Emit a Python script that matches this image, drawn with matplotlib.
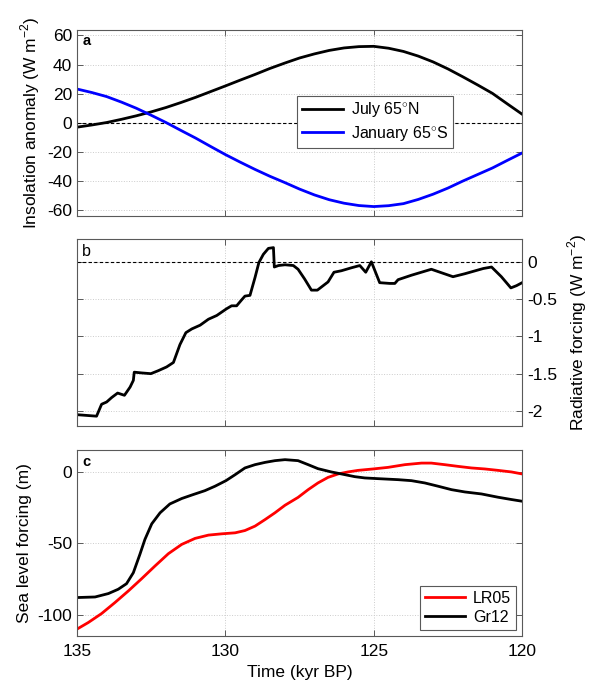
#!/usr/bin/env python3
"""Three-panel forcing figure: insolation, radiative forcing, sea level (135-120 kyr BP)."""
import matplotlib
matplotlib.use("Agg")
import matplotlib.pyplot as plt

plt.rcParams["font.family"] = ["Liberation Sans", "DejaVu Sans"]
plt.rcParams["axes.unicode_minus"] = False
plt.rcParams["mathtext.fontset"] = "custom"
plt.rcParams["mathtext.rm"] = "Liberation Sans"

# --- data ---------------------------------------------------------------------
# panel a: insolation anomaly (W m-2)
ins_time = [135, 134.5, 134, 133.5, 133, 132.5, 132, 131.5, 131, 130.5, 130, 129.5,
            129, 128.5, 128, 127.5, 127, 126.5, 126, 125.5, 125, 124.5, 124, 123.5,
            123, 122.5, 122, 121.5, 121, 120.5, 120]
july_65n = [-3.0, -1.5, 0.2, 2.4, 4.8, 7.5, 10.5, 13.9, 17.5, 21.4, 25.3, 29.3,
            33.2, 37.3, 41.0, 44.5, 47.3, 49.7, 51.4, 52.3, 52.5, 51.2, 49.0, 45.8,
            41.8, 37.0, 31.6, 26.0, 20.2, 13.0, 5.9]
jan_65s = [23.2, 20.8, 18.0, 14.2, 10.0, 5.2, 0.2, -5.2, -10.5, -16.2, -21.8, -27.0,
           -32.0, -36.7, -41.0, -45.5, -49.5, -52.8, -55.2, -56.8, -57.5, -56.9, -55.5, -52.6,
           -49.0, -44.8, -40.0, -35.5, -31.0, -25.8, -20.7]

# panel b: radiative forcing (W m-2)
rf_time = [135, 134.34, 134.17, 134.0, 133.83, 133.63, 133.40, 133.21, 133.10, 133.07,
           132.82, 132.51, 132.26, 131.98, 131.75, 131.53, 131.33, 131.13, 130.85, 130.57,
           130.29, 129.96, 129.79, 129.62, 129.45, 129.34, 129.17, 129.0, 128.87, 128.72,
           128.55, 128.38, 128.35, 128.21, 127.99, 127.71, 127.55, 127.33, 127.1, 126.9,
           126.54, 126.34, 126.09, 125.75, 125.47, 125.27, 125.08, 124.8, 124.46, 124.29,
           124.18, 123.73, 123.06, 122.33, 121.93, 121.31, 121.03, 120.7, 120.38, 120.19,
           120.0]
rf_value = [-2.05, -2.07, -1.91, -1.88, -1.82, -1.76, -1.79, -1.68, -1.59, -1.48,
            -1.49, -1.50, -1.46, -1.41, -1.35, -1.11, -0.95, -0.90, -0.85, -0.77,
            -0.72, -0.63, -0.59, -0.59, -0.51, -0.46, -0.45, -0.21, -0.01, 0.10,
            0.18, 0.19, -0.07, -0.05, -0.04, -0.05, -0.10, -0.23, -0.38, -0.38,
            -0.27, -0.14, -0.12, -0.08, -0.05, -0.14, 0.0, -0.28, -0.29, -0.29,
            -0.24, -0.18, -0.10, -0.20, -0.16, -0.09, -0.07, -0.20, -0.35, -0.32,
            -0.28]

# panel c: sea level forcing (m)
gr12_time = [135, 134.39, 133.94, 133.61, 133.33, 133.1, 132.88, 132.71, 132.48, 132.2,
             131.87, 131.47, 131.08, 130.69, 130.35, 129.98, 129.67, 129.34, 129.0, 128.66,
             128.33, 127.99, 127.55, 127.21, 126.88, 126.43, 126.09, 125.64, 125.3, 124.85,
             124.18, 123.73, 123.28, 122.83, 122.38, 121.93, 121.37, 120.81, 120.36, 120.0]
gr12 = [-88.1, -87.7, -85.3, -82.3, -78.4, -70.7, -57.9, -47.4, -36.5, -28.8,
        -22.6, -18.8, -16.0, -13.3, -10.2, -6.3, -2.1, 2.6, 4.9, 6.5,
        7.7, 8.4, 7.7, 4.9, 2.1, -0.2, -1.6, -3.5, -4.4, -4.9,
        -5.6, -6.3, -7.9, -10.2, -12.6, -14.2, -15.6, -17.9, -19.5, -20.7]
lr05_time = [135, 134.62, 134.17, 133.72, 133.27, 132.82, 132.37, 131.92, 131.47, 131.02,
             130.57, 130.12, 129.67, 129.34, 129.0, 128.66, 128.33, 127.99, 127.55,
             127.21, 126.88, 126.54, 126.2, 125.87, 125.53, 125.02, 124.52, 123.95, 123.39,
             123.06, 122.61, 122.16, 121.71, 121.26, 120.81, 120.36, 120.0]
lr05 = [-110.2, -105.6, -99.3, -91.6, -83.5, -74.9, -66.0, -57.4, -50.9, -46.7,
        -44.4, -43.5, -42.8, -41.2, -38.1, -33.5, -28.8, -23.5, -18.0,
        -12.6, -7.9, -4.0, -1.6, -0.2, 0.9, 1.9, 3.0, 4.9, 6.0,
        6.0, 4.9, 3.7, 2.6, 1.9, 0.9, -0.2, -1.6]

x_ticks = [135, 130, 125, 120]
a_ticks = [60, 40, 20, 0, -20, -40, -60]
b_ticks = [0, -0.5, -1, -1.5, -2]
b_tick_labels = ["0", "-0.5", "-1", "-1.5", "-2"]
c_ticks = [0, -50, -100]

FS = 12.5
LEG_FS = 11.5
SPINE = "0.35"


def style(ax):
    ax.set_xlim(135, 120)
    ax.set_xticks(x_ticks)
    ax.grid(True, color="0.8", linestyle=":", linewidth=0.7)
    ax.tick_params(direction="in", length=4, width=0.7, top=True, right=True,
                   labelsize=FS, color=SPINE)
    ax.tick_params(axis="x", pad=6)
    for s in ax.spines.values():
        s.set_color(SPINE)
        s.set_linewidth(0.8)


fig = plt.figure(figsize=(5.92, 6.88), dpi=100)
ax_a = fig.add_axes([0.130, 0.686, 0.752, 0.271])
ax_b = fig.add_axes([0.130, 0.381, 0.752, 0.271])
ax_c = fig.add_axes([0.130, 0.0756, 0.752, 0.270])

# --- a ------------------------------------------------------------------------
style(ax_a)
ax_a.axhline(0, color="k", lw=0.8, ls=(0, (3, 2)))
ax_a.plot(ins_time, july_65n, color="k", lw=2, label=r"July 65$^{\circ}$N")
ax_a.plot(ins_time, jan_65s, color="#0000ff", lw=2, label=r"January 65$^{\circ}$S")
ax_a.set_ylim(-64, 64)
ax_a.set_yticks(a_ticks)
ax_a.set_xticklabels([])
ax_a.set_ylabel(r"Insolation anomaly (W m$^{-2}$)", fontsize=FS)
leg = ax_a.legend(loc="center", bbox_to_anchor=(0.67, 0.506), fontsize=LEG_FS,
                  fancybox=False, framealpha=1, edgecolor=SPINE, handlelength=2.6,
                  borderpad=0.3, labelspacing=0.3, handletextpad=0.5)
leg.get_frame().set_linewidth(0.8)
ax_a.text(0.012, 0.975, "a", transform=ax_a.transAxes, fontsize=10.5,
          fontweight="bold", va="top", ha="left")

# --- b ------------------------------------------------------------------------
style(ax_b)
ax_b.axhline(0, color="k", lw=0.8, ls=(0, (3, 2)))
ax_b.plot(rf_time, rf_value, color="k", lw=2)
ax_b.set_ylim(-2.2, 0.3)
ax_b.set_yticks(b_ticks)
ax_b.set_yticklabels(b_tick_labels)
ax_b.yaxis.tick_right()
ax_b.tick_params(left=True, labelleft=False, labelright=True)
ax_b.yaxis.set_label_position("right")
ax_b.set_xticklabels([])
ax_b.set_ylabel(r"Radiative forcing (W m$^{-2}$)", fontsize=FS, labelpad=6)
ax_b.text(0.012, 0.975, "b", transform=ax_b.transAxes, fontsize=11.5,
          va="top", ha="left")

# --- c ------------------------------------------------------------------------
style(ax_c)
ax_c.plot(lr05_time, lr05, color="#ff0000", lw=2, label="LR05")
ax_c.plot(gr12_time, gr12, color="k", lw=2, label="Gr12")
ax_c.set_ylim(-115, 15)
ax_c.set_yticks(c_ticks)
ax_c.set_ylabel("Sea level forcing (m)", fontsize=FS)
ax_c.set_xlabel("Time (kyr BP)", fontsize=FS, labelpad=4)
leg = ax_c.legend(loc="lower right", fontsize=LEG_FS, fancybox=False, framealpha=1,
                  edgecolor=SPINE, handlelength=2.5, borderpad=0.3,
                  labelspacing=0.25, borderaxespad=0.4, handletextpad=0.5)
leg.get_frame().set_linewidth(0.8)
ax_c.text(0.012, 0.975, "c", transform=ax_c.transAxes, fontsize=10.5,
          fontweight="bold", va="top", ha="left")

fig.savefig("out.png", dpi=100)
plt.close(fig)
